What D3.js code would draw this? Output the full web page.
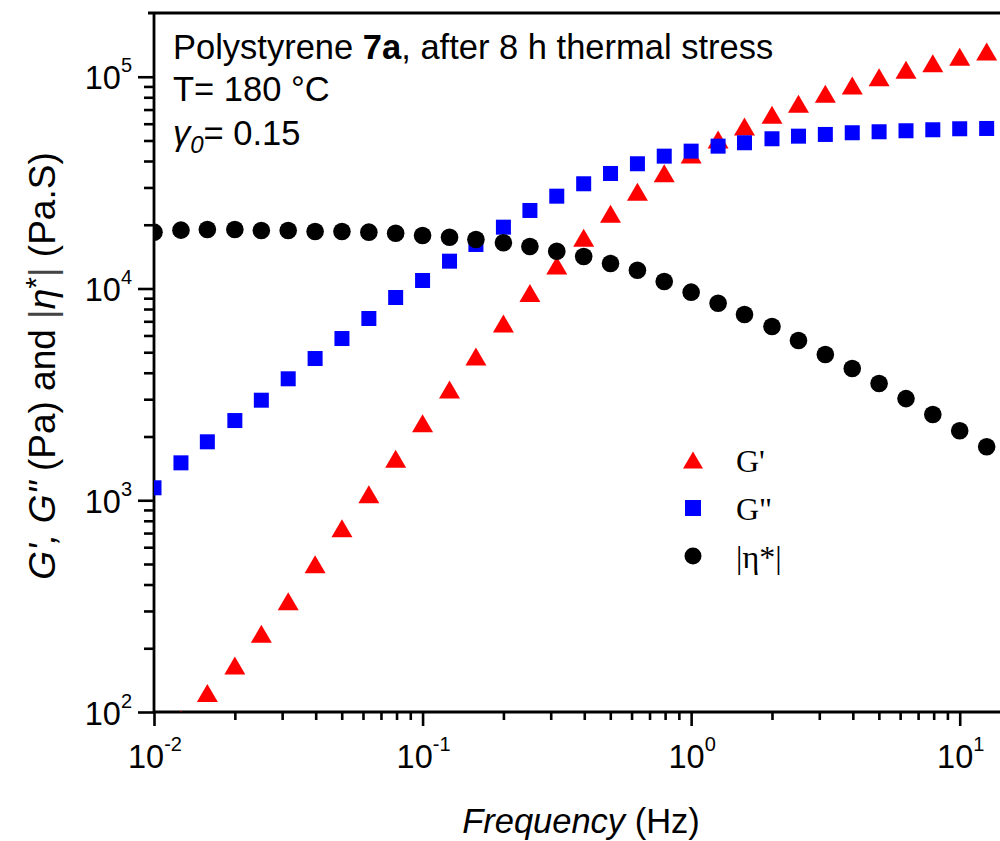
<!DOCTYPE html>
<html>
<head>
<meta charset="utf-8">
<script src="https://cdn.jsdelivr.net/npm/d3@7"></script>
<style>
  html, body { margin: 0; padding: 0; background: #fff; }
  svg { display: block; }
  text { font-family: Arial, "Liberation Sans", sans-serif; fill: #000; }
</style>
</head>
<body>
<svg id="chart" width="1000" height="841"></svg>
<script>
// Oscillatory frequency sweep, polystyrene 7a after 8 h thermal stress at 180 °C
const frequency = [0.01, 0.0126, 0.0158, 0.02, 0.0251, 0.0316, 0.0398, 0.0501, 0.0631, 0.0794,
                   0.1, 0.126, 0.158, 0.2, 0.251, 0.316, 0.398, 0.501, 0.631, 0.794,
                   1, 1.26, 1.58, 2, 2.51, 3.16, 3.98, 5.01, 6.31, 7.94, 10, 12.6];
const storageModulus = [null, 92, 123, 166, 234, 333, 498, 738, 1067, 1569,
                        2310, 3334, 4773, 6834, 9522, 12840, 17360, 22530, 28620, 35040,
                        42950, 50570, 58240, 66140, 74550, 83130, 90980, 99560, 107900, 115900, 124300, 131700];
const lossModulus = [1145, 1502, 1888, 2379, 2968, 3746, 4670, 5804, 7216, 9067,
                     10910, 13460, 16140, 19480, 23360, 27290, 31230, 34930, 38820, 42170,
                     44530, 47010, 48780, 50950, 52410, 53390, 54390, 54980, 55580, 56180, 56800, 56980];
const complexViscosity = [18450, 18860, 19000, 19000, 18790, 18790, 18580, 18580, 18450, 18240,
                          17800, 17470, 17040, 16440, 15790, 15000, 14160, 13120, 12200, 10790,
                          9610, 8520, 7540, 6610, 5680, 4880, 4190, 3560, 3020, 2540, 2130, 1790];

const xTickExponents = [-2, -1, 0, 1];
const yTickExponents = [2, 3, 4, 5];
const legendLabels = ["G'", 'G"', "|\u03b7*|"];

(function draw() {
  const svg = d3.select("#chart");
  const pLeft = 154, pTop = 13, pBottom = 712, pRight = 1007;

  const x = d3.scaleLog().domain([0.01, 15]).range([pLeft, pRight]);
  const y = d3.scaleLog().domain([100, 200000]).range([pBottom, pTop]);

  // minor tick values (2..9 per decade) inside a domain
  function minors(lo, hi) {
    const out = [];
    for (let e = Math.floor(Math.log10(lo)); e <= Math.ceil(Math.log10(hi)); e++) {
      for (let m = 2; m <= 9; m++) {
        const v = m * Math.pow(10, e);
        if (v > lo && v < hi) out.push(v);
      }
    }
    return out;
  }

  // ticks via d3.axis; spines drawn separately
  function tickAxis(axis, g) {
    g.call(axis);
    g.select(".domain").remove();
    g.selectAll(".tick line").attr("stroke", "#000").attr("stroke-width", 2.6);
  }
  tickAxis(d3.axisBottom(x).tickValues(xTickExponents.map(e => Math.pow(10, e))).tickSize(14).tickFormat(""),
    svg.append("g").attr("transform", `translate(0,${pBottom})`));
  tickAxis(d3.axisBottom(x).tickValues(minors(0.01, 15)).tickSize(8).tickFormat(""),
    svg.append("g").attr("transform", `translate(0,${pBottom})`));
  tickAxis(d3.axisLeft(y).tickValues(yTickExponents.map(e => Math.pow(10, e))).tickSize(16).tickFormat(""),
    svg.append("g").attr("transform", `translate(${pLeft},0)`));
  tickAxis(d3.axisLeft(y).tickValues(minors(100, 200000)).tickSize(10).tickFormat(""),
    svg.append("g").attr("transform", `translate(${pLeft},0)`));

  // spines: top, left, bottom
  svg.append("path")
    .attr("d", `M${pLeft - 6},${pTop} H${pRight} M${pLeft},${pTop} V${pBottom} M${pLeft},${pBottom} H${pRight}`)
    .attr("stroke", "#000").attr("stroke-width", 2.8).attr("fill", "none");

  // tick labels as 10^n
  xTickExponents.forEach(e => {
    const t = svg.append("text")
      .attr("x", x(Math.pow(10, e)) + 1).attr("y", 768)
      .attr("text-anchor", "middle").style("font-size", "32.5px");
    t.append("tspan").text("10");
    t.append("tspan").attr("dy", -17).style("font-size", "20px").text(String(e));
  });
  yTickExponents.forEach(e => {
    const t = svg.append("text")
      .attr("x", 132).attr("y", y(Math.pow(10, e)) + 12.5)
      .attr("text-anchor", "end").style("font-size", "32.5px");
    t.append("tspan").text("10");
    t.append("tspan").attr("dy", -17).style("font-size", "20px").text(String(e));
  });

  // axis titles
  const xTitle = svg.append("text").attr("x", 581).attr("y", 833)
    .attr("text-anchor", "middle").style("font-size", "34.5px");
  xTitle.append("tspan").style("font-style", "italic").text("Frequency");
  xTitle.append("tspan").text(" (Hz)");

  const yTitle = svg.append("text")
    .attr("transform", "translate(55,366) rotate(-90)")
    .attr("text-anchor", "middle").style("font-size", "37px");
  yTitle.append("tspan").style("font-style", "italic").text("G', G\"");
  yTitle.append("tspan").text(" (Pa) and ");
  yTitle.append("tspan").style("fill", "#444").text("|");
  yTitle.append("tspan").style("font-style", "italic").text("\u03b7");
  yTitle.append("tspan").attr("dy", -9).style("font-size", "30px").text("*");
  yTitle.append("tspan").attr("dy", 9).style("fill", "#444").text("|");
  yTitle.append("tspan").text(" (Pa.S)");

  // annotation block
  const l1 = svg.append("text").attr("x", 173).attr("y", 59).style("font-size", "34.5px");
  l1.append("tspan").text("Polystyrene ");
  l1.append("tspan").style("font-weight", "bold").text("7a");
  l1.append("tspan").text(", after 8 h thermal stress");
  svg.append("text").attr("x", 173).attr("y", 101).style("font-size", "34.5px").text("T= 180 \u00b0C");
  const l3 = svg.append("text").attr("x", 173).attr("y", 145).style("font-size", "34.5px");
  l3.append("tspan").style("font-style", "italic").text("\u03b3");
  l3.append("tspan").attr("dy", 8).style("font-style", "italic").style("font-size", "24px").text("0");
  l3.append("tspan").attr("dy", -8).text("= 0.15");

  // markers, clipped to the plot frame
  svg.append("clipPath").attr("id", "plotClip")
    .append("rect").attr("x", pLeft).attr("y", pTop).attr("width", pRight - pLeft).attr("height", pBottom - pTop);
  const plot = svg.append("g").attr("clip-path", "url(#plotClip)");

  const triPath = (cx, cy, w, h) => `M${cx},${cy - h / 2} L${cx + w / 2},${cy + h / 2} L${cx - w / 2},${cy + h / 2} Z`;

  const gPrime = frequency.map((f, i) => ({ f, v: storageModulus[i] })).filter(d => d.v != null);
  const gDouble = frequency.map((f, i) => ({ f, v: lossModulus[i] }));
  const eta = frequency.map((f, i) => ({ f, v: complexViscosity[i] }));

  plot.append("g").selectAll("path").data(gPrime).join("path")
    .attr("d", d => triPath(x(d.f), y(d.v), 21, 18)).attr("fill", "#ff0000");
  plot.append("g").selectAll("rect").data(gDouble).join("rect")
    .attr("x", d => x(d.f) - 7.5).attr("y", d => y(d.v) - 7.5)
    .attr("width", 15).attr("height", 15).attr("fill", "#0000ff");
  plot.append("g").selectAll("circle").data(eta).join("circle")
    .attr("cx", d => x(d.f)).attr("cy", d => y(d.v)).attr("r", 8.8).attr("fill", "#000");

  // legend
  const legY = [460, 508, 556];
  svg.append("path").attr("d", triPath(693, legY[0], 20, 17)).attr("fill", "#ff0000");
  svg.append("rect").attr("x", 685).attr("y", legY[1] - 8).attr("width", 16).attr("height", 16).attr("fill", "#0000ff");
  svg.append("circle").attr("cx", 693).attr("cy", legY[2]).attr("r", 8.5).attr("fill", "#000");
  legendLabels.forEach((s, i) => {
    svg.append("text").attr("x", 736).attr("y", legY[i] + 12)
      .style("font-family", "'Liberation Serif', 'Times New Roman', serif").style("font-size", "32px").text(s);
  });
})();
</script>
</body>
</html>
